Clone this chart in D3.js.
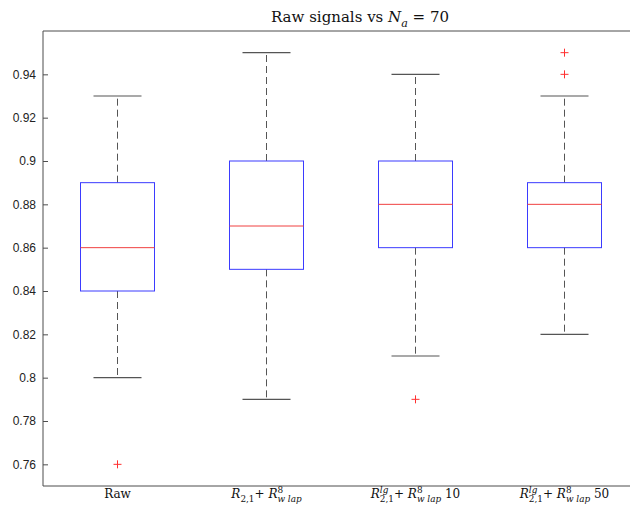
<!DOCTYPE html>
<html><head><meta charset="utf-8">
<script src="https://cdn.jsdelivr.net/npm/d3@7/dist/d3.min.js"></script>
<style>body{margin:0;background:#fff}</style>
</head><body>
<svg id="c" width="630" height="505"></svg>
<script>
const categories = ["Raw", "R21_lap", "Rlg_lap_10", "Rlg_lap_50"];
const whiskerLow = [0.80, 0.79, 0.81, 0.82];
const q1 = [0.84, 0.85, 0.86, 0.86];
const medians = [0.86, 0.87, 0.88, 0.88];
const q3 = [0.89, 0.90, 0.90, 0.89];
const whiskerHigh = [0.93, 0.95, 0.94, 0.93];
const outliers = [[0.76], [], [0.79], [0.94, 0.95]];
const yTicks = [0.76, 0.78, 0.80, 0.82, 0.84, 0.86, 0.88, 0.90, 0.92, 0.94];

// label token lists: [text, italic, position('b','sub','sup'), stackWithNext]
const xLabels = [
  [["Raw", false, "b"]],
  [["R", true, "b"], ["2,1", false, "sub"], ["+ ", false, "b"], ["R", true, "b"], ["8", false, "sup", true], ["w lap", true, "sub"]],
  [["R", true, "b"], ["lg", true, "sup", true], ["2,1", false, "sub"], ["+ ", false, "b"], ["R", true, "b"], ["8", false, "sup", true], ["w lap", true, "sub"], [" 10", false, "b"]],
  [["R", true, "b"], ["lg", true, "sup", true], ["2,1", false, "sub"], ["+ ", false, "b"], ["R", true, "b"], ["8", false, "sup", true], ["w lap", true, "sub"], [" 50", false, "b"]]
];
const titleTokens = [["Raw signals vs ", false, "b"], ["N", true, "b"], ["a", true, "sub"], [" = 70", false, "b"]];

const svg = d3.select("#c");
const mLeft = 43, mTop = 31, mBottom = 486, rightRange = 639;
const y = d3.scaleLinear().domain([0.75, 0.96]).range([mBottom, mTop]);
const x = d3.scalePoint().domain(categories).range([mLeft, rightRange]).padding(0.5);
const boxW = 74, capW = 48;
const axisCol = "#4d4d4d";

// axes frame
svg.append("line").attr("x1", mLeft).attr("x2", 630).attr("y1", mTop).attr("y2", mTop).attr("stroke", axisCol);
svg.append("line").attr("x1", mLeft).attr("x2", 630).attr("y1", mBottom).attr("y2", mBottom).attr("stroke", axisCol);
const yAxis = d3.axisLeft(y).tickValues(yTicks).tickSizeInner(-5).tickSizeOuter(0).tickPadding(7)
  .tickFormat(d => d3.format("")(+d.toFixed(2)));
const gy = svg.append("g").attr("transform", `translate(${mLeft},0)`).call(yAxis);
gy.attr("font-family", "Liberation Sans, Arial, sans-serif");
gy.select(".domain").attr("stroke", axisCol).attr("d", `M0,${mTop}V${mBottom}`);
gy.selectAll(".tick line").attr("stroke", axisCol);
gy.selectAll("text").attr("font-family", "Liberation Sans, Arial, sans-serif").attr("font-size", 12).attr("fill", "#222");

const data = categories.map((c, i) => ({c, lo: whiskerLow[i], q1: q1[i], med: medians[i], q3: q3[i], hi: whiskerHigh[i], out: outliers[i]}));
const g = svg.selectAll(".bx").data(data).enter().append("g");
// whiskers
g.append("line").attr("x1", d => x(d.c)).attr("x2", d => x(d.c)).attr("y1", d => y(d.q3)).attr("y2", d => y(d.hi))
  .attr("stroke", "#555").attr("stroke-dasharray", "7,4");
g.append("line").attr("x1", d => x(d.c)).attr("x2", d => x(d.c)).attr("y1", d => y(d.q1)).attr("y2", d => y(d.lo))
  .attr("stroke", "#555").attr("stroke-dasharray", "7,4");
// caps
["hi", "lo"].forEach(k => {
  g.append("line").attr("x1", d => x(d.c) - capW / 2).attr("x2", d => x(d.c) + capW / 2)
    .attr("y1", d => y(d[k])).attr("y2", d => y(d[k])).attr("stroke", "#555").attr("stroke-width", 1.2);
});
// box
g.append("rect").attr("x", d => x(d.c) - boxW / 2).attr("width", boxW)
  .attr("y", d => y(d.q3)).attr("height", d => y(d.q1) - y(d.q3))
  .attr("fill", "none").attr("stroke", "#3b3bff").attr("stroke-width", 1);
// median
g.append("line").attr("x1", d => x(d.c) - boxW / 2).attr("x2", d => x(d.c) + boxW / 2)
  .attr("y1", d => y(d.med)).attr("y2", d => y(d.med)).attr("stroke", "#f04040");
// outliers
g.each(function(d) {
  const s = d3.select(this);
  d.out.forEach(v => {
    s.append("path").attr("d", `M${x(d.c) - 4},${y(v)}H${x(d.c) + 4}M${x(d.c)},${y(v) - 4}V${y(v) + 4}`)
      .attr("stroke", "#ff3030").attr("fill", "none");
  });
});

// math-like text layout
function mathText(parent, tokens, cx, baseY, size) {
  const grp = parent.append("g");
  let cur = 0, stackStart = null;
  tokens.forEach(tk => {
    const [t, it, pos, stack] = tk;
    const fs = pos === "b" ? size : size * 0.74;
    const dy = pos === "sub" ? size * 0.3 : pos === "sup" ? -size * 0.45 : 0;
    const startX = stackStart !== null ? stackStart.x : cur;
    const te = grp.append("text").attr("x", startX).attr("y", baseY + dy)
      .attr("font-family", "DejaVu Serif, Liberation Serif, serif").attr("font-size", fs)
      .attr("font-style", it ? "italic" : "normal").attr("fill", "#111")
      .style("white-space", "pre").text(t);
    const w = te.node().getComputedTextLength();
    if (stack) { stackStart = {x: cur, w: w}; }
    else if (stackStart !== null) { cur = stackStart.x + Math.max(stackStart.w, w); stackStart = null; }
    else cur += w;
  });
  grp.attr("transform", `translate(${cx - cur / 2},0)`);
  return grp;
}
mathText(svg, titleTokens, 360, 22, 15);
categories.forEach((c, i) => mathText(svg, xLabels[i], x(c), 498, 12));
</script>
</body></html>
